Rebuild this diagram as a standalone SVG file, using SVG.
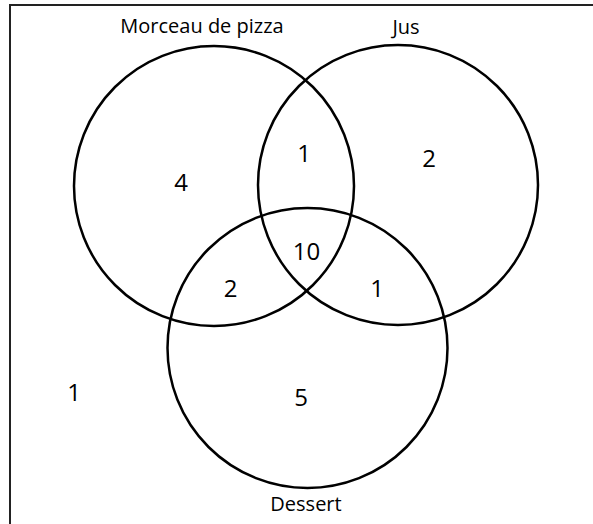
<svg xmlns="http://www.w3.org/2000/svg" width="593" height="524" viewBox="0 0 593 524">
  <style>
    .frame { stroke: #222; stroke-width: 2; fill: none; }
    .set { fill: none; stroke: #000; stroke-width: 2.5; }
    .label { font-family: "Open Sans", "Noto Sans", sans-serif; font-size: 20px; fill: #000; text-anchor: middle; }
    .count { font-family: "Open Sans", "Noto Sans", sans-serif; font-size: 24px; fill: #000; text-anchor: middle; }
  </style>
  <rect width="593" height="524" fill="#fff"/>
  <g id="frame">
    <line class="frame" x1="10" y1="5" x2="593" y2="5"/>
    <line class="frame" x1="10" y1="4" x2="10" y2="524"/>
  </g>
  <g id="connectors"></g>
  <g id="pizza">
    <circle class="set" cx="214" cy="186" r="140"/>
    <text class="label" x="202" y="33">Morceau de pizza</text>
  </g>
  <g id="jus">
    <circle class="set" cx="398" cy="185" r="140"/>
    <text class="label" x="406" y="34">Jus</text>
  </g>
  <g id="dessert">
    <circle class="set" cx="307.5" cy="348" r="140"/>
    <text class="label" x="306" y="511">Dessert</text>
  </g>
  <g id="counts">
    <text class="count" x="181" y="191">4</text>
    <text class="count" x="304" y="162">1</text>
    <text class="count" x="429" y="167">2</text>
    <text class="count" x="306.5" y="260">10</text>
    <text class="count" x="230.5" y="297">2</text>
    <text class="count" x="377" y="297">1</text>
    <text class="count" x="301" y="406">5</text>
    <text class="count" x="74" y="401">1</text>
  </g>
</svg>
